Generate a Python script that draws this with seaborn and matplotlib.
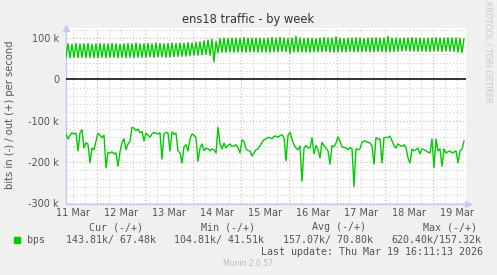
import matplotlib
matplotlib.use("Agg")
import matplotlib.pyplot as plt
import matplotlib.dates as mdates
from matplotlib.patches import Rectangle
import numpy as np
import pandas as pd
import seaborn as sns

# ---------------- data (values in kbit/s, hourly samples) ----------------
start_time = "2026-03-11 08:30"
n_hours = 200

in_kbps = [
    -132, -144, -135, -129, -132, -130, -173, -129, -122, -166,
    -153, -157, -202, -166, -170, -150, -130, -135, -141, -135,
    -214, -177, -178, -175, -180, -178, -210, -175, -153, -144,
    -170, -156, -150, -116, -118, -124, -120, -129, -126, -149,
    -130, -135, -140, -132, -128, -130, -132, -129, -193, -132,
    -128, -130, -173, -127, -133, -130, -173, -178, -202, -163,
    -158, -173, -144, -132, -135, -141, -198, -166, -156, -172,
    -166, -168, -173, -168, -170, -178, -116, -156, -168, -154,
    -166, -160, -156, -162, -161, -158, -165, -178, -146, -150,
    -168, -172, -173, -185, -178, -170, -168, -161, -152, -146,
    -144, -140, -141, -144, -138, -137, -140, -136, -134, -140,
    -197, -135, -128, -145, -158, -166, -170, -161, -246, -166,
    -160, -165, -166, -141, -180, -160, -170, -190, -152, -160,
    -166, -173, -205, -160, -163, -154, -139, -150, -163, -165,
    -166, -170, -165, -168, -259, -168, -170, -168, -152, -149,
    -150, -152, -154, -160, -205, -141, -144, -144, -202, -141,
    -140, -141, -137, -149, -160, -166, -156, -160, -162, -158,
    -165, -190, -202, -168, -173, -170, -166, -180, -168, -170,
    -173, -176, -178, -144, -214, -144, -173, -168, -210, -168,
    -178, -175, -173, -178, -176, -173, -202, -173, -168, -149,
]

# out traffic: one low and one high sample per 2-hour cycle
out_low_kbps = [
    53, 52, 53, 52, 53, 52, 53, 52, 52, 53,
    52, 53, 53, 52, 53, 52, 53, 52, 53, 53,
    53, 54, 53, 54, 54, 53, 54, 55, 55, 56,
    56, 57, 58, 58, 59, 60, 58, 42, 64, 65,
    65, 66, 65, 66, 66, 65, 66, 66, 65, 66,
    66, 65, 66, 66, 67, 66, 63, 66, 66, 66,
    66, 65, 66, 66, 66, 67, 66, 65, 66, 66,
    66, 67, 66, 66, 66, 67, 66, 66, 67, 66,
    66, 66, 67, 68, 68, 69, 68, 68, 67, 68,
    68, 67, 68, 68, 67, 68, 68, 67, 66, 64,
]
out_high_kbps = [
    86, 85, 87, 86, 86, 87, 85, 86, 87, 86,
    86, 87, 86, 85, 86, 87, 86, 88, 86, 86,
    87, 86, 88, 87, 86, 87, 88, 87, 88, 87,
    89, 88, 90, 91, 93, 95, 97, 92, 99, 100,
    99, 100, 100, 99, 101, 100, 99, 100, 100, 99,
    100, 101, 100, 102, 100, 99, 100, 104, 100, 99,
    100, 99, 99, 100, 101, 100, 100, 103, 100, 99,
    100, 100, 101, 100, 99, 100, 100, 101, 100, 100,
    104, 100, 100, 99, 100, 100, 101, 100, 100, 99,
    100, 100, 101, 100, 100, 101, 100, 100, 99, 98,
]

day_labels = ["11 Mar", "12 Mar", "13 Mar", "14 Mar", "15 Mar",
              "16 Mar", "17 Mar", "18 Mar", "19 Mar"]
ytick_values = [100, 0, -100, -200, -300]
ytick_labels = ["100 k", "0", "-100 k", "-200 k", "-300 k"]

legend_headers = ["Cur (-/+)", "Min (-/+)", "Avg (-/+)", "Max (-/+)"]
legend_values = ["143.81k/ 67.48k", "104.81k/ 41.51k", "157.07k/ 70.80k", "620.40k/157.32k"]
series_name = "bps"
title = "ens18 traffic - by week"
ylabel = "bits in (-) / out (+) per second"
last_update = "Last update: Thu Mar 19 16:11:13 2026"
footer = "Munin 2.0.57"
side_text = "RRDTOOL / TOBI OETIKER"

# ---------------- build frame ----------------
times = pd.date_range(start_time, periods=n_hours, freq="h")
out_kbps = [v for pair in zip(out_low_kbps, out_high_kbps) for v in pair]
df = pd.DataFrame({
    "time": times,
    "in": np.array(in_kbps) * 1000.0,
    "out": np.array(out_kbps) * 1000.0,
})

W, H = 497, 275
BG = "#F0F0F0"
GREEN = "#00CC00"
TXT = "#555555"

fig = plt.figure(figsize=(W / 100, H / 100), dpi=100, facecolor=BG)
ax_l, ax_r, ax_t, ax_b = 66, 466, 28, 203.5
ax = fig.add_axes([ax_l / W, 1 - ax_b / H, (ax_r - ax_l) / W, (ax_b - ax_t) / H])
ax.set_facecolor("white")

t0 = pd.Timestamp(start_time)
t1 = t0 + pd.Timedelta(hours=n_hours)
ax.set_xlim(t0, t1)
ax.set_ylim(-300000, 124000)

# grid
for yv in range(-300000, 124001, 20000):
    if yv % 100000 == 0:
        continue
    ax.axhline(yv, color="#D0D0D0", lw=0.8, ls=(0, (1, 2)), zorder=0.5)
for yv in range(-300000, 100001, 100000):
    ax.axhline(yv, color="#E6A8A8", lw=0.8, ls=(0, (1, 2)), zorder=0.6)

six_h = pd.date_range("2026-03-11 12:00", t1, freq="6h")
for t in six_h:
    if t.hour == 0:
        ax.axvline(t, color="#E6A8A8", lw=0.8, ls=(0, (1, 2)), zorder=0.6)
    else:
        ax.axvline(t, color="#D0D0D0", lw=0.8, ls=(0, (1, 2)), zorder=0.5)

# data
sns.lineplot(data=df, x="time", y="out", ax=ax, color=GREEN, lw=1.0, zorder=3)
sns.lineplot(data=df, x="time", y="in", ax=ax, color=GREEN, lw=1.0, zorder=3)
ax.axhline(0, color="black", lw=1.1, zorder=4)

# axes / ticks
noon = pd.date_range("2026-03-11 12:00", periods=len(day_labels), freq="D")
ax.set_xticks(noon)
ax.set_xticklabels(day_labels)
ax.set_yticks([v * 1000 for v in ytick_values])
ax.set_yticklabels(ytick_labels)
ax.tick_params(axis="both", length=0, labelsize=7, labelcolor=TXT, pad=3)
ax.tick_params(axis="y", pad=5)
ax.set_xlabel("")
ax.set_ylabel("")
for s in ["top", "right"]:
    ax.spines[s].set_visible(False)
for s in ["left", "bottom"]:
    ax.spines[s].set_color("#C8C8F0")
    ax.spines[s].set_linewidth(1.0)

# axis arrows
ax.plot([0], [1.0], marker="^", ms=4, color="#C8C8F0", transform=ax.transAxes,
        clip_on=False, zorder=5)
ax.plot([1.005], [0], marker=">", ms=4, color="#C8C8F0", transform=ax.transAxes,
        clip_on=False, zorder=5)

def fx(x):
    return x / W

def fy(y):
    return 1 - y / H

fig.text(fx(248), fy(19.5), title, ha="center", va="center", fontsize=8.3,
         color="#333333")
fig.text(fx(10), fy(115), ylabel, ha="center", va="center", rotation=90,
         fontsize=7.2, color=TXT)
fig.text(fx(488), fy(52), side_text, ha="center", va="center", rotation=270,
         fontsize=5.8, color="#C8C8C8")

mono = dict(family="DejaVu Sans Mono", fontsize=7.2, color=TXT, va="center")
for hx, h in zip([89, 201, 312, 423], legend_headers):
    fig.text(fx(hx), fy(227.3), h, ha="left", **mono)
fig.patches.append(Rectangle((fx(14), fy(243)), 6 / W, 6 / H, transform=fig.transFigure,
                             color=GREEN, figure=fig))
fig.text(fx(27), fy(240), series_name, ha="left", **mono)
for vx, v in zip([66, 174, 283, 391], legend_values):
    fig.text(fx(vx), fy(240), v, ha="left", **mono)
fig.text(fx(483), fy(252), last_update, ha="right", **mono)
fig.text(fx(248), fy(264), footer, ha="center", va="center", fontsize=5.5,
         color="#BBBBBB")

fig.savefig("out.png", dpi=100, facecolor=BG)
